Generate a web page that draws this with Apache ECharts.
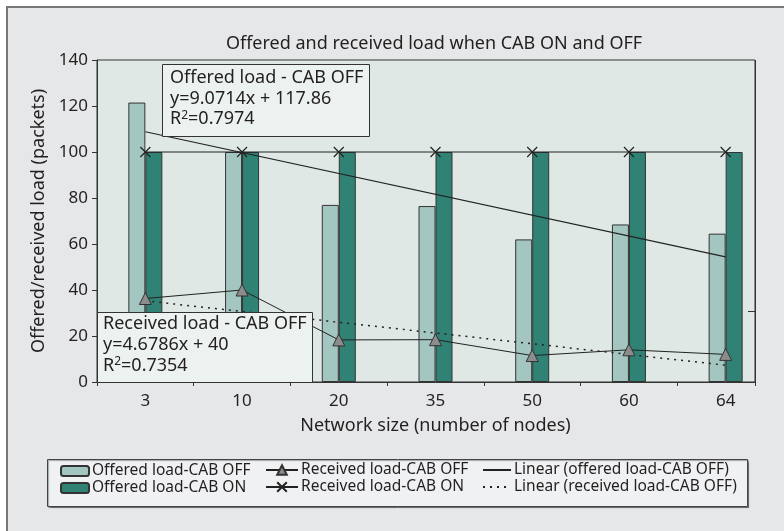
<!DOCTYPE html>
<html>
<head>
<meta charset="utf-8">
<script src="https://cdn.jsdelivr.net/npm/echarts@6/dist/echarts.min.js"></script>
<style>
  html, body { margin: 0; padding: 0; background: #fff; }
  #main { width: 784px; height: 531px; }
</style>
</head>
<body>
<div id="main"></div>
<script>
// network sizes
var categories = ['3', '10', '20', '35', '50', '60', '64'];
// bars
var offeredOff = [121.5, 100, 77, 76.5, 62, 68.5, 64.5];
var offeredOn = [100, 100, 100, 100, 100, 100, 100];
// lines
var receivedOff = [36.3, 40, 18.3, 18.4, 11.5, 14, 12];
var receivedOn = [100, 100, 100, 100, 100, 100, 100];
// trend lines, end points only
var linearOffered = [108.8, null, null, null, null, null, 54.4];
var linearReceived = [35.3, null, null, null, null, null, 7.3];
var yTicks = [0, 20, 40, 60, 80, 100, 120, 140];

var FONT = 'Noto Sans';
var TXT = '#231f20';

var dom = document.getElementById('main');
var myChart = echarts.init(dom, null, { renderer: 'canvas' });

function oneLegend(name, left, top, w, h, noMark) {
    var lg = {
        data: [name],
        left: left,
        top: top,
        padding: 0,
        itemWidth: w,
        itemHeight: h,
        itemGap: 0,
        textStyle: { fontFamily: FONT, fontSize: 15.5, color: TXT, padding: [0, 0, 0, -2] }
    };
    if (noMark) {
        lg.itemStyle = { opacity: 0 };
    }
    return lg;
}

var xMark = 'path://M0,0L10,10M10,0L0,10';

option = {
    backgroundColor: '#ffffff',
    animation: false,
    title: {
        text: 'Offered and received load when CAB ON and OFF',
        left: 429,
        textAlign: 'center',
        top: 30,
        textStyle: { fontFamily: FONT, fontSize: 18, fontWeight: 'normal', color: TXT }
    },
    legend: [
        oneLegend('Offered load-CAB OFF', 60, 463, 28, 10),
        oneLegend('Offered load-CAB ON', 60, 480, 28, 10),
        oneLegend('Received load-CAB OFF', 265, 462, 32, 12),
        oneLegend('Received load-CAB ON', 265, 479, 32, 12),
        oneLegend('Linear (offered load-CAB OFF)', 482, 462, 28, 12, true),
        oneLegend('Linear (received load-CAB OFF)', 482, 479, 28, 12, true)
    ],
    grid: { left: 97, right: 10, top: 60, bottom: 149, show: false },
    xAxis: {
        type: 'category',
        data: categories,
        boundaryGap: true,
        name: 'Network size (number of nodes)',
        nameLocation: 'middle',
        nameGap: 35,
        nameTextStyle: { fontFamily: FONT, fontSize: 18, color: TXT },
        axisLine: { lineStyle: { color: '#333', width: 1 } },
        axisTick: { show: true, length: 4, lineStyle: { color: '#333' } },
        axisLabel: { fontFamily: FONT, fontSize: 17, color: TXT, margin: 11 }
    },
    yAxis: {
        type: 'value',
        min: yTicks[0],
        max: yTicks[yTicks.length - 1],
        interval: 20,
        name: 'Offered/received load (packets)',
        nameLocation: 'middle',
        nameGap: 48,
        nameTextStyle: { fontFamily: FONT, fontSize: 18, color: TXT },
        axisLine: { show: true, lineStyle: { color: '#333', width: 1 } },
        axisTick: { show: true, length: 5, lineStyle: { color: '#333' } },
        axisLabel: { fontFamily: FONT, fontSize: 17, color: TXT, margin: 9 },
        splitLine: { show: false }
    },
    series: [
        {
            name: 'Offered load-CAB OFF',
            type: 'bar',
            barWidth: 17,
            barGap: '0%',
            data: offeredOff,
            itemStyle: { color: '#a3c6c0', borderColor: '#333', borderWidth: 1 }
        },
        {
            name: 'Offered load-CAB ON',
            type: 'bar',
            barWidth: 17,
            barGap: '0%',
            data: offeredOn,
            itemStyle: { color: '#2f8274', borderColor: '#333', borderWidth: 1 }
        },
        {
            name: 'Received load-CAB OFF',
            type: 'line',
            data: receivedOff,
            symbol: 'triangle',
            symbolSize: 12,
            lineStyle: { color: '#222', width: 1 },
            itemStyle: { color: '#8c8c8c', borderColor: '#333', borderWidth: 1 },
            z: 5
        },
        {
            name: 'Received load-CAB ON',
            type: 'line',
            data: receivedOn,
            symbol: xMark,
            symbolSize: 10,
            lineStyle: { color: '#222', width: 1 },
            itemStyle: { color: 'rgba(0,0,0,0)', borderColor: '#222', borderWidth: 1.2 },
            z: 5
        },
        {
            name: 'Linear (offered load-CAB OFF)',
            type: 'line',
            data: linearOffered,
            connectNulls: true,
            symbol: 'none',
            lineStyle: { color: '#222', width: 1.2 },
            itemStyle: { color: '#222' },
            z: 4
        },
        {
            name: 'Linear (received load-CAB OFF)',
            type: 'line',
            data: linearReceived,
            connectNulls: true,
            symbol: 'none',
            lineStyle: { color: '#222', width: 1.5, type: [2, 5] },
            itemStyle: { color: '#222' },
            z: 4
        }
    ],
    graphic: [
        // outer frame
        { type: 'rect', z: -10, shape: { x: 7, y: 7, width: 820, height: 600 },
          style: { fill: '#e6e7e8', stroke: '#777', lineWidth: 2 } },
        // plot area
        { type: 'rect', z: -5, shape: { x: 97, y: 60, width: 658, height: 322 },
          style: { fill: '#dfe8e5', stroke: '#333', lineWidth: 1 } },
        // hide the part of the axis past the plot edge
        { type: 'rect', z: 50, shape: { x: 755.5, y: 50, width: 40, height: 345 },
          style: { fill: '#e6e7e8' } },
        { type: 'line', z: 51, shape: { x1: 755.5, y1: 60, x2: 755.5, y2: 386 },
          style: { stroke: '#333', lineWidth: 1 } },
        { type: 'line', z: 51, shape: { x1: 748, y1: 311.5, x2: 755.5, y2: 311.5 },
          style: { stroke: '#333', lineWidth: 1 } },
        // legend frame
        { type: 'rect', z: 1, shape: { x: 47.5, y: 459.5, width: 700, height: 47 },
          style: { fill: '#f0f1f3', stroke: '#444', lineWidth: 1,
                   shadowColor: 'rgba(0,0,0,0.35)', shadowOffsetX: 1, shadowOffsetY: 1, shadowBlur: 1 } },
        // trend labels
        { type: 'rect', z: 60, shape: { x: 162.5, y: 64.5, width: 207, height: 72 },
          style: { fill: '#ebf2f0', stroke: '#333', lineWidth: 1 } },
        { type: 'text', z: 61, x: 170, y: 68,
          style: { text: 'Offered load - CAB OFF\ny=9.0714x + 117.86\nR{sup|2}=0.7974',
                   font: '18px "Noto Sans"', fill: TXT, lineHeight: 20.5,
                   rich: { sup: { fontSize: 12, fontFamily: FONT, padding: [0, 0, 8, 0], fill: TXT } } } },
        { type: 'rect', z: 60, shape: { x: 97.5, y: 312.5, width: 215, height: 70 },
          style: { fill: '#ebf2f0', stroke: '#333', lineWidth: 1 } },
        { type: 'text', z: 61, x: 103, y: 313,
          style: { text: 'Received load - CAB OFF\ny=4.6786x + 40\nR{sup|2}=0.7354',
                   font: '18px "Noto Sans"', fill: TXT, lineHeight: 21,
                   rich: { sup: { fontSize: 12, fontFamily: FONT, padding: [0, 0, 8, 0], fill: TXT } } } }
    ]
};

if (option && typeof option === "object") {
    myChart.setOption(option, true);
}
</script>
</body>
</html>
